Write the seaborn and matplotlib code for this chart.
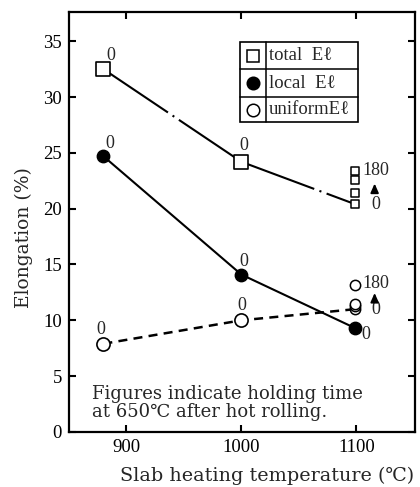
import matplotlib
matplotlib.use('Agg')
import matplotlib.pyplot as plt
import matplotlib.transforms as mtrans
import seaborn as sns
from matplotlib.patches import Rectangle

# ---- data ----
temps = [880, 1000, 1099]
total_el = [32.5, 24.2, 20.4]
local_el = [24.7, 14.1, 9.3]
uniform_el = [7.9, 10.0, 11.0]
held_temp = 1099
total_held = [20.4, 21.4, 22.6, 23.4]
uniform_held = [11.0, 11.3, 11.5, 13.2]
hold_times = ['0', '180']
x_ticks = [900, 1000, 1100]
y_ticks = [0, 5, 10, 15, 20, 25, 30, 35]
legend_labels = ['total  E\u2113', 'local  E\u2113', 'uniformE\u2113']

sns.set_theme(style='ticks')
plt.rcParams['lines.scale_dashes'] = False
NUM = ['Liberation Serif', 'DejaVu Serif']
TXT = ['DejaVu Serif', 'Liberation Serif']

fig = plt.figure(figsize=(4.2, 4.87), dpi=100)
ax = fig.add_axes([0.164, 0.113, 0.824, 0.862])

# lines
for i in range(len(temps) - 1):
    ax.plot(temps[i:i + 2], total_el[i:i + 2], color='black', lw=1.5,
            dashes=[56, 4, 1.5, 4], zorder=2)
sns.lineplot(x=temps, y=local_el, ax=ax, color='black', lw=1.5, zorder=2)
ax.plot(temps, uniform_el, color='black', lw=1.8, dashes=[6.5, 4.5], zorder=2)

# markers
sns.scatterplot(x=temps[:2], y=total_el[:2], ax=ax, marker='s', s=95,
                facecolor='white', edgecolor='black', linewidth=1.2, zorder=3)
sns.scatterplot(x=[held_temp] * len(total_held), y=total_held, ax=ax, marker='s', s=38,
                facecolor='white', edgecolor='black', linewidth=1.1, zorder=3)
sns.scatterplot(x=temps, y=local_el, ax=ax, marker='o', s=80,
                facecolor='black', edgecolor='black', linewidth=1.0, zorder=3)
sns.scatterplot(x=temps[:2], y=uniform_el[:2], ax=ax, marker='o', s=90,
                facecolor='white', edgecolor='black', linewidth=1.2, zorder=3)
sns.scatterplot(x=[held_temp] * len(uniform_held), y=uniform_held, ax=ax, marker='o', s=55,
                facecolor='white', edgecolor='black', linewidth=1.1, zorder=3)

# point labels
kw = dict(textcoords='offset points', fontsize=13, family=NUM, ha='center', va='center')
ax.annotate(hold_times[0], (temps[0], total_el[0]), xytext=(5, 10), **kw)
ax.annotate(hold_times[0], (temps[1], total_el[1]), xytext=(1.5, 12), **kw)
ax.annotate(hold_times[0], (temps[0], local_el[0]), xytext=(4.5, 9.5), **kw)
ax.annotate(hold_times[0], (temps[1], local_el[1]), xytext=(1.5, 9.5), **kw)
ax.annotate(hold_times[0], (temps[2], local_el[2]), xytext=(8, -4.5), **kw)
ax.annotate(hold_times[0], (temps[0], uniform_el[0]), xytext=(-1.5, 10), **kw)
ax.annotate(hold_times[0], (temps[1], uniform_el[1]), xytext=(0, 11), **kw)

shifted = mtrans.offset_copy(ax.transData, fig=fig, x=14, y=0, units='points')
for vals in (total_held, uniform_held):
    ax.annotate(hold_times[1], (held_temp, max(vals)), xytext=(15, 0.5), **kw)
    ax.annotate(hold_times[0], (held_temp, min(vals)), xytext=(15, 0), **kw)
    mid = (max(vals) + min(vals)) / 2
    ax.annotate('', xy=(held_temp, mid + 0.35), xycoords=shifted,
                xytext=(held_temp, mid - 0.3), textcoords=shifted,
                arrowprops=dict(arrowstyle='-|>,head_length=0.45,head_width=0.2',
                                color='black', lw=1.3, shrinkA=0, shrinkB=0))

# note text
ax.text(0.066, 0.112, 'Figures indicate holding time\nat 650\u2103 after hot rolling.',
        transform=ax.transAxes, fontsize=13, family=TXT, ha='left', va='top',
        linespacing=1.0)

# legend table
x0, x1, xd = 0.494, 0.835, 0.569
ys = [0.929, 0.864, 0.798, 0.738]
ax.add_patch(Rectangle((x0, ys[-1]), x1 - x0, ys[0] - ys[-1], transform=ax.transAxes,
                       facecolor='white', edgecolor='black', lw=1.2, zorder=4))
for yy in ys[1:-1]:
    ax.plot([x0, x1], [yy, yy], transform=ax.transAxes, color='black', lw=1.1, zorder=5)
ax.plot([xd, xd], [ys[0], ys[-1]], transform=ax.transAxes, color='black', lw=1.1, zorder=5)
row_c = [(ys[i] + ys[i + 1]) / 2 for i in range(3)]
sym = [('s', 'white', 8.5), ('o', 'black', 9), ('o', 'white', 9)]
for (m, fc, ms), yc, lab in zip(sym, row_c, legend_labels):
    ax.plot([0.532], [yc], marker=m, ms=ms, mfc=fc, mec='black', mew=1.1,
            transform=ax.transAxes, zorder=6, clip_on=False)
    ax.text(0.578, yc, lab, transform=ax.transAxes, fontsize=13.5, family=NUM,
            ha='left', va='center', zorder=6)

# axes styling
ax.set_xlim(850, 1151)
ax.set_ylim(0, 37.6)
ax.set_xticks(x_ticks)
ax.set_yticks(y_ticks)
ax.tick_params(direction='in', length=5, width=1.5, top=True, right=True,
               labelsize=13.5, pad=5, colors='black')
for lab in ax.get_xticklabels() + ax.get_yticklabels():
    lab.set_family(NUM)
for sp in ax.spines.values():
    sp.set_linewidth(1.6)
    sp.set_color('black')
ax.set_xlabel('Slab heating temperature (\u2103)', fontsize=13.8, family=TXT)
ax.set_ylabel('Elongation (%)', fontsize=13.5, family=TXT)
ax.xaxis.set_label_coords(0.572, -0.083)
ax.yaxis.set_label_coords(-0.105, 0.464)
ax.xaxis.label.set_va('top')

fig.savefig('out.png', dpi=100)
